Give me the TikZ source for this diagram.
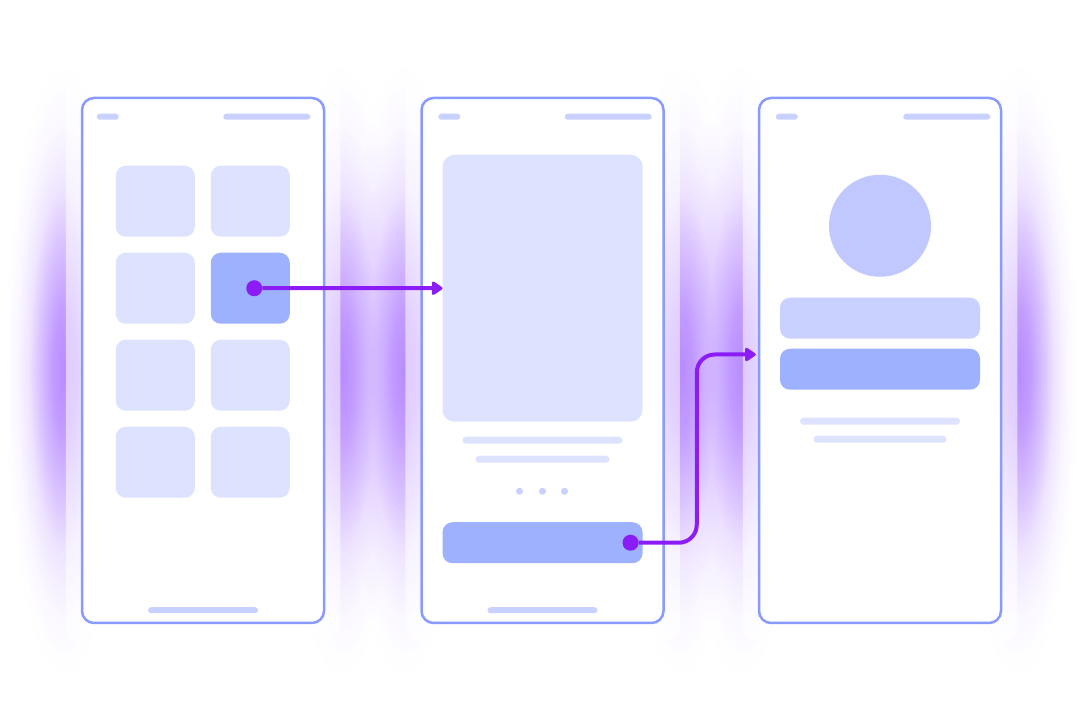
\documentclass[tikz,border=0pt]{standalone}
\usepackage{tikz}
\usetikzlibrary{arrows.meta}
\usetikzlibrary{positioning,calc,fit,backgrounds,fadings}

\newlength{\pxu}
\setlength{\pxu}{0.025cm}

\definecolor{phoneline}{HTML}{8A9BFF}
\definecolor{tilefill}{HTML}{DDE3FF}
\definecolor{accentfill}{HTML}{9DB1FF}
\definecolor{barfill}{HTML}{C8D1FF}
\definecolor{avatarfill}{HTML}{C0C8FF}
\definecolor{flowpurple}{HTML}{8B1CF5}
\definecolor{glowpurple}{HTML}{A064FF}

\pgfdeclareradialshading{glowshade}{\pgfpointorigin}{color(0bp)=(white!75!black); color(5bp)=(white!64!black); color(11bp)=(white!37!black); color(15bp)=(white!17!black); color(20bp)=(white!5!black); color(25bp)=(black); color(50bp)=(black)}
\pgfdeclarefading{glowfade}{\pgfuseshading{glowshade}}

\tikzstyle{phone} = [rectangle, rounded corners=12\pxu, minimum width=242\pxu, minimum height=525\pxu, inner sep=0, draw=phoneline, line width=2.5\pxu, fill=white]
\tikzstyle{card} = [rectangle, rounded corners=12\pxu, inner sep=15\pxu, fill=white, fill opacity=0.55]
\tikzstyle{glowfill} = [fill=glowpurple, path fading=glowfade]
\tikzstyle{tile} = [rectangle, rounded corners=10\pxu, minimum width=79\pxu, minimum height=71\pxu, inner sep=0, outer sep=0, fill=tilefill]
\tikzstyle{statbar} = [rectangle, rounded corners=3\pxu, minimum height=6\pxu, inner sep=0, outer sep=0, fill=barfill]
\tikzstyle{textline} = [rectangle, rounded corners=3.5\pxu, minimum height=7\pxu, inner sep=0, outer sep=0, fill=tilefill]
\tikzstyle{panel} = [rectangle, rounded corners=10\pxu, minimum width=200\pxu, minimum height=41\pxu, inner sep=0, outer sep=0]
\tikzstyle{pagedot} = [circle, minimum size=7\pxu, inner sep=0, outer sep=0, fill=barfill]
\tikzstyle{tapdot} = [circle, minimum size=16\pxu, inner sep=0, outer sep=0, fill=flowpurple]
\tikzstyle{flow} = [draw=flowpurple, line width=4\pxu, -{Triangle[length=3mm, width=3.8mm, round]}]

\begin{document}
\begin{tikzpicture}[x=0.025cm, y=-0.025cm, node distance=95\pxu]
\useasboundingbox (0,0) rectangle (1080,720);

  \node (phone1) [phone] at (203,360.5) {};
  \node (phone2) [phone, right=of phone1] {};
  \node (phone3) [phone, right=93\pxu of phone2] {};

  \node (s1a) [statbar, minimum width=22\pxu, anchor=north west] at ($(phone1.north west)+(16,17)$) {};
  \node (s1b) [statbar, minimum width=87\pxu, anchor=north east] at ($(phone1.north east)+(-15,17)$) {};
  \node (t11) [tile, anchor=north west] at ($(phone1.north west)+(35,69)$) {};
  \node (t12) [tile, right=16\pxu of t11] {};
  \node (t21) [tile, below=16\pxu of t11] {};
  \node (t22) [tile, right=16\pxu of t21, fill=accentfill] {};
  \node (t31) [tile, below=16\pxu of t21] {};
  \node (t32) [tile, right=16\pxu of t31] {};
  \node (t41) [tile, below=16\pxu of t31] {};
  \node (t42) [tile, right=16\pxu of t41] {};
  \node (d1) [tapdot] at ($(t22.center)+(4,0)$) {};
  \node (h1) [statbar, minimum width=110\pxu, above=11\pxu of phone1.south] {};

  \node (s2a) [statbar, minimum width=22\pxu, anchor=north west] at ($(phone2.north west)+(18,17)$) {};
  \node (s2b) [statbar, minimum width=87\pxu, anchor=north east] at ($(phone2.north east)+(-13,17)$) {};
  \node (img) [rectangle, rounded corners=12\pxu, minimum width=200\pxu, minimum height=267\pxu, inner sep=0, outer sep=0, fill=tilefill, below=58\pxu of phone2.north] {};
  \node (l1) [textline, minimum width=160\pxu, below=15\pxu of img] {};
  \node (l2) [textline, minimum width=134\pxu, below=12\pxu of l1] {};
  \node (pd2) [pagedot, below=25\pxu of l2] {};
  \node (pd1) [pagedot, left=16\pxu of pd2] {};
  \node (pd3) [pagedot, right=15\pxu of pd2] {};
  \node (btn) [panel, fill=accentfill, above=61\pxu of phone2.south] {};
  \node (d2) [tapdot] at ($(btn.east)+(-12,0)$) {};
  \node (h2) [statbar, minimum width=110\pxu, above=11\pxu of phone2.south] {};

  \node (s3a) [statbar, minimum width=22\pxu, anchor=north west] at ($(phone3.north west)+(18,17)$) {};
  \node (s3b) [statbar, minimum width=87\pxu, anchor=north east] at ($(phone3.north east)+(-12,17)$) {};
  \node (avatar) [circle, minimum size=102\pxu, inner sep=0, outer sep=0, fill=avatarfill, below=78\pxu of phone3.north] {};
  \node (f1) [panel, fill=barfill, below=21\pxu of avatar] {};
  \node (f2) [panel, fill=accentfill, below=10\pxu of f1] {};
  \node (l3) [textline, minimum width=160\pxu, below=28\pxu of f2] {};
  \node (l4) [textline, minimum width=133\pxu, below=11\pxu of l3] {};

  \coordinate (a2end) at ($(phone3.west)+(-2,-6)$);
  \coordinate (bend) at ($(a2end)+(-59,0)$);
  \draw[flow] (d1) -- (img.west);
  \draw[flow, rounded corners=18\pxu] (d2) -| (bend) -- (a2end);

  \begin{scope}[on background layer]
    \fill[glowfill] ($(phone1.west)+(-16,10)$) ellipse [x radius=1.5cm, y radius=7.6cm];
    \fill[glowfill] ($(phone1.east)+(16,10)$) ellipse [x radius=1.5cm, y radius=7.6cm];
    \fill[glowfill] ($(phone2.west)+(-16,10)$) ellipse [x radius=1.5cm, y radius=7.6cm];
    \fill[glowfill] ($(phone2.east)+(16,10)$) ellipse [x radius=1.5cm, y radius=7.6cm];
    \fill[glowfill] ($(phone3.west)+(-16,10)$) ellipse [x radius=1.5cm, y radius=7.6cm];
    \fill[glowfill] ($(phone3.east)+(16,10)$) ellipse [x radius=1.5cm, y radius=7.6cm];
    \node (card1) [card, fit=(phone1)] {};
    \node (card2) [card, fit=(phone2)] {};
    \node (card3) [card, fit=(phone3)] {};
  \end{scope}
\end{tikzpicture}
\end{document}
